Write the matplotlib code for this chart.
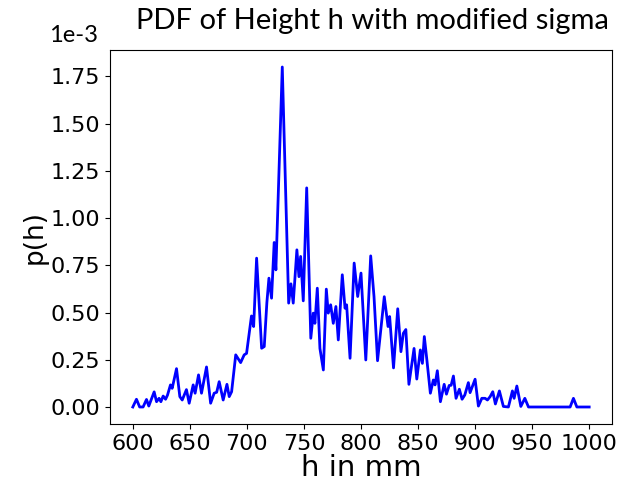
import matplotlib
matplotlib.use("Agg")
import matplotlib.pyplot as plt

# height h in mm and p(h) in units of 1e-3
h_mm = [600, 603.2, 606, 609, 612, 614, 618.7, 620.8, 623, 624.6, 626.6, 628.7,
        630.4, 633, 634.5, 638.3, 641.2, 643.3, 647, 649.4, 652.9, 654.6, 657.6,
        660.2, 664.6, 668.2, 671.3, 673.5, 675.7, 679.2, 682.5, 684.5, 686.6,
        690.2, 694.5, 697.6, 699.7, 704, 705.9, 708.5, 712.9, 715.2, 717.5,
        719.3, 721.6, 723.9, 725.4, 731, 736.6, 738.6, 740.6, 743.8, 745.6,
        747.1, 749.4, 752.4, 756, 758.2, 759.6, 761.7, 764, 767, 769.6, 771.3,
        773.4, 775.7, 778, 780.1, 783.6, 786, 787.4, 790.4, 794, 797.1, 800,
        804.2, 808.5, 811.4, 814.5, 820.4, 823.7, 825.1, 828.5, 832.2, 835,
        837.1, 839.3, 842, 846.5, 848.9, 852, 853.8, 855.5, 857.9, 860.8,
        863.4, 864.9, 866.9, 869.6, 872.9, 874.9, 877.3, 879, 881, 883.3,
        886.2, 888.6, 891, 894.1, 895.6, 900, 902.9, 905.9, 908.8, 910.8,
        913.2, 915.5, 917.8, 921.3, 924.8, 929.2, 932.7, 934.2, 936.6, 940.1,
        943.6, 946.8, 983.3, 986.2, 989.2, 1000]
p_h = [0, 0.041, 0, 0, 0.04, 0.005, 0.08, 0.028, 0.046, 0.028, 0.058, 0.041,
       0.063, 0.117, 0.099, 0.203, 0.055, 0.037, 0.092, 0.02, 0.117, 0.073,
       0.17, 0.073, 0.212, 0.02, 0.073, 0.078, 0.134, 0.037, 0.12, 0.055,
       0.081, 0.276, 0.235, 0.276, 0.284, 0.482, 0.426, 0.788, 0.311, 0.32,
       0.553, 0.682, 0.576, 0.871, 0.726, 1.80, 0.55, 0.652, 0.55, 0.832,
       0.69, 0.797, 0.562, 1.16, 0.364, 0.497, 0.443, 0.629, 0.31, 0.196,
       0.624, 0.497, 0.541, 0.443, 0.532, 0.355, 0.7, 0.523, 0.541, 0.258,
       0.762, 0.585, 0.709, 0.249, 0.8, 0.585, 0.245, 0.584, 0.426, 0.479,
       0.207, 0.52, 0.293, 0.39, 0.41, 0.12, 0.31, 0.148, 0.302, 0.231,
       0.373, 0.24, 0.073, 0.143, 0.117, 0.192, 0.028, 0.12, 0.068, 0.114,
       0.115, 0.164, 0.046, 0.094, 0.041, 0.064, 0.129, 0.076, 0.147, 0.005,
       0.046, 0.046, 0.037, 0.055, 0.081, 0.016, 0.085, 0.003, 0, 0.085,
       0.046, 0.111, 0.003, 0.046, 0, 0, 0.046, 0, 0]

XTICKS = [600, 650, 700, 750, 800, 850, 900, 950, 1000]
YTICKS = [0.0, 0.25, 0.5, 0.75, 1.0, 1.25, 1.5, 1.75]

fig = plt.figure(figsize=(6.2, 4.92), dpi=100)
ax = fig.add_axes([110 / 620, 68 / 492, 502 / 620, 374 / 492])

ax.plot(h_mm, p_h, color="blue", lw=2)
ax.set_xticks(XTICKS)
ax.set_yticks(YTICKS)
ax.set_yticklabels([f"{t:.2f}" for t in YTICKS])
ax.tick_params(labelsize=16)
ax.set_xlabel("h in mm", fontsize=21, labelpad=0)
ax.set_ylabel("p(h)", fontsize=19, labelpad=2)

# title and offset were drawn in a Calibri-like face in the reference
fig.text(0.60, 0.958, "PDF of Height h with modified sigma",
         family="Lato", fontsize=21, ha="center", va="center")
fig.text(0.118, 0.928, "1e-3", family="Lato", fontsize=17,
         ha="center", va="center")

fig.savefig("out.png", dpi=100)
